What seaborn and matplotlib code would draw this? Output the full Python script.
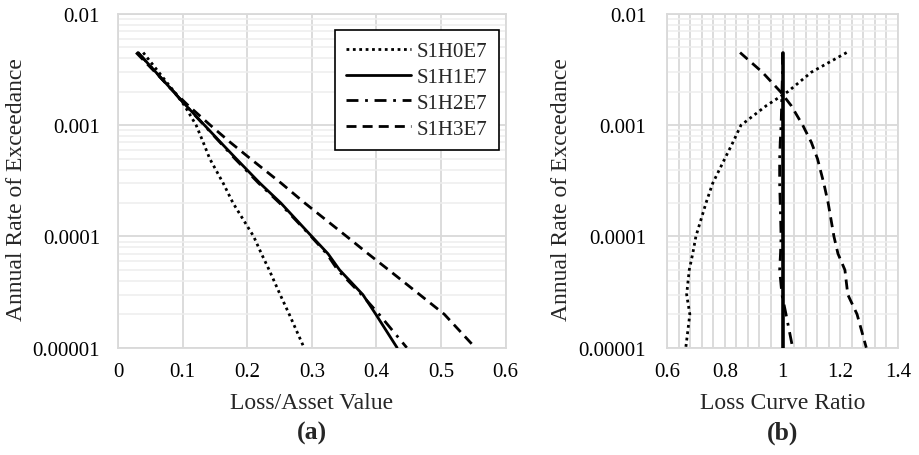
import numpy as np
import pandas as pd
import matplotlib
matplotlib.use("Agg")
import matplotlib.pyplot as plt
from matplotlib.ticker import FixedLocator, FuncFormatter, MultipleLocator, NullFormatter, LogLocator
import seaborn as sns

# Annual rates of exceedance at which the loss curves are evaluated
rates = [0.0045, 0.003, 0.002, 0.0015, 0.001, 0.0007, 0.0005, 0.0003, 0.0002,
         0.0001, 0.00007, 0.00005, 0.00003, 0.00002, 0.00001]

series_names = ["S1H0E7", "S1H1E7", "S1H2E7", "S1H3E7"]

# (a) loss / asset value at each rate
loss_h0 = [0.039, 0.063, 0.087, 0.103, 0.121, 0.132, 0.142, 0.163, 0.178,
           0.210, 0.222, 0.234, 0.251, 0.265, 0.288]
loss_h1 = [0.031, 0.0586, 0.086, 0.1055, 0.134, 0.159, 0.183, 0.220, 0.252,
           0.300, 0.325, 0.343, 0.379, 0.399, 0.432]
loss_h2 = [0.031, 0.0586, 0.086, 0.1052, 0.1333, 0.158, 0.181, 0.218, 0.250,
           0.299, 0.323, 0.340, 0.377, 0.404, 0.447]
loss_h3 = [0.028, 0.0575, 0.0866, 0.109, 0.143, 0.174, 0.205, 0.253, 0.289,
           0.354, 0.387, 0.419, 0.467, 0.505, 0.553]

# (b) loss curve ratio relative to S1H1E7
ratio_h0 = [1.222, 1.10, 1.018, 0.944, 0.856, 0.828, 0.80, 0.758, 0.735,
            0.70, 0.689, 0.677, 0.668, 0.679, 0.665]
ratio_h1 = [1.0] * 15
ratio_h2 = [1.0, 1.0, 0.998, 0.997, 0.995, 0.992, 0.99, 0.99, 0.992,
            0.995, 0.993, 0.99, 0.998, 1.012, 1.035]
ratio_h3 = [0.853, 0.93, 0.993, 1.03, 1.07, 1.10, 1.121, 1.143, 1.158,
            1.178, 1.192, 1.216, 1.226, 1.258, 1.29]

x_ticks_a = [0, 0.1, 0.2, 0.3, 0.4, 0.5, 0.6]
x_ticks_b = [0.6, 0.8, 1.0, 1.2, 1.4]
y_ticks = [0.00001, 0.0001, 0.001, 0.01]

sns.set_theme(style="white")
plt.rcParams["font.family"] = ["Liberation Serif", "DejaVu Serif"]

line_styles = {
    "S1H0E7": (0, (1.0, 1.3)),
    "S1H1E7": "-",
    "S1H2E7": (0, (4.3, 2.4, 1.0, 2.4)),
    "S1H3E7": (0, (3.6, 2.2)),
}

tick_fs = 15
label_fs = 17
panel_fs = 18.5
grid_major = "#d9d9d9"
grid_minor = "#eeeeee"

fig = plt.figure(figsize=(9.19, 4.56), dpi=100)
ax1 = fig.add_axes([0.1284, 0.2353, 0.4218, 0.7318])
ax2 = fig.add_axes([0.7258, 0.2353, 0.2514, 0.7318])

loss_data = dict(zip(series_names, [loss_h0, loss_h1, loss_h2, loss_h3]))
ratio_data = dict(zip(series_names, [ratio_h0, ratio_h1, ratio_h2, ratio_h3]))

for name in series_names:
    df = pd.DataFrame({"x": loss_data[name], "rate": rates})
    sns.lineplot(data=df, x="x", y="rate", ax=ax1, sort=False, estimator=None,
                 color="black", lw=2.0, linestyle=line_styles[name],
                 label=name, dash_capstyle="butt", zorder=3)
    df2 = pd.DataFrame({"x": ratio_data[name], "rate": rates})
    sns.lineplot(data=df2, x="x", y="rate", ax=ax2, sort=False,
                 estimator=None, color="black",
                 lw=2.6 if name == "S1H1E7" else 2.0,
                 linestyle=line_styles[name], legend=False,
                 dash_capstyle="butt", zorder=3)


def fmt_rate(v, pos):
    n = int(round(-np.log10(v)))
    return f"{v:.{n}f}"


def fmt_plain(v, pos):
    return f"{v:g}"


for ax, xt, xlim in [(ax1, x_ticks_a, (0, 0.6)), (ax2, x_ticks_b, (0.6, 1.4))]:
    ax.set_yscale("log")
    ax.set_ylim(0.00001, 0.01)
    ax.set_xlim(*xlim)
    ax.xaxis.set_major_locator(FixedLocator(xt))
    ax.xaxis.set_major_formatter(FuncFormatter(fmt_plain))
    ax.yaxis.set_major_locator(FixedLocator(y_ticks))
    ax.yaxis.set_major_formatter(FuncFormatter(fmt_rate))
    ax.yaxis.set_minor_locator(LogLocator(base=10, subs=np.arange(2, 10)))
    ax.yaxis.set_minor_formatter(NullFormatter())
    ax.grid(True, which="major", color=grid_major, lw=1.3, zorder=0)
    ax.grid(True, which="minor", axis="y", color=grid_minor, lw=1.1, zorder=0)
    ax.tick_params(axis="both", which="both", length=0, labelsize=tick_fs,
                   colors="black")
    ax.tick_params(axis="x", pad=10)
    ax.tick_params(axis="y", pad=13)
    for sp in ax.spines.values():
        sp.set_color(grid_major)
        sp.set_linewidth(1.3)
    ax.set_axisbelow(True)

ax2.xaxis.set_minor_locator(MultipleLocator(0.04))
ax2.xaxis.set_minor_formatter(NullFormatter())
ax2.grid(True, which="minor", axis="x", color=grid_major, lw=1.3, zorder=0)
ax2.tick_params(axis="y", pad=15)

ax1.set_xlabel("Loss/Asset Value", fontsize=label_fs, va="center")
ax1.set_ylabel("Annual Rate of Exceedance", fontsize=label_fs, va="center")
ax2.set_xlabel("Loss Curve Ratio", fontsize=label_fs, va="center")
ax2.set_ylabel("Annual Rate of Exceedance", fontsize=label_fs, va="center")
ax1.xaxis.set_label_coords(0.5, -0.163)
ax2.xaxis.set_label_coords(0.5, -0.163)
ax1.yaxis.set_label_coords(-0.262, 0.476)
ax2.yaxis.set_label_coords(-0.455, 0.476)

fig.text(0.3397, 0.0504, "(a)", fontsize=panel_fs, fontweight="bold",
         ha="center", va="center")
fig.text(0.8515, 0.0504, "(b)", fontsize=panel_fs, fontweight="bold",
         ha="center", va="center")

leg = ax1.legend(loc="upper right", bbox_to_anchor=(0.983, 0.952),
                 borderaxespad=0, fontsize=tick_fs, frameon=True,
                 fancybox=False, handlelength=3.1, handletextpad=0.3,
                 labelspacing=0.3, borderpad=0.55)
leg.get_frame().set_edgecolor("black")
leg.get_frame().set_linewidth(1.2)
leg.get_frame().set_alpha(1)

fig.savefig("out.png", dpi=100, facecolor="white")
